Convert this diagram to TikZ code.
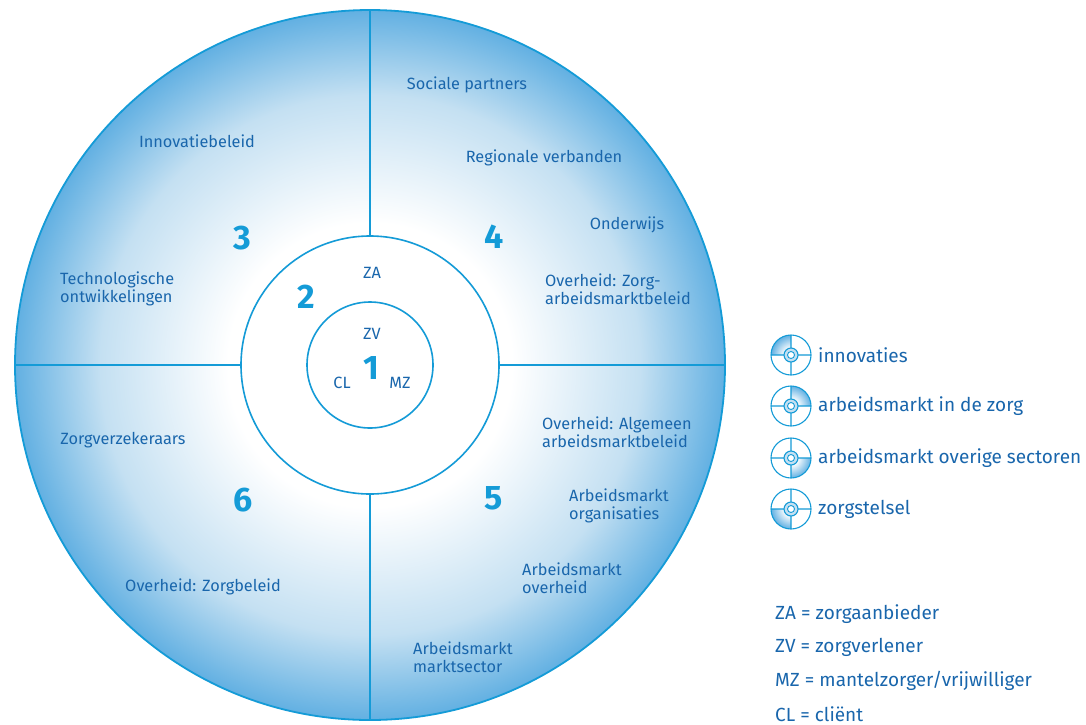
\documentclass[tikz,border=0pt]{standalone}
\usepackage{fontspec}
\setmainfont{Fira Sans}
\definecolor{ringblue}{RGB}{20,155,215}
\definecolor{textblue}{RGB}{25,102,172}
\definecolor{edgeblue}{RGB}{98,176,226}
\definecolor{paleblue}{RGB}{196,224,242}
\pgfdeclareradialshading{discfade}{\pgfpoint{0bp}{0bp}}{color(0bp)=(white); color(10bp)=(white); color(19bp)=(paleblue); color(25bp)=(edgeblue); color(50bp)=(edgeblue)}
\pgfdeclareradialshading{iconfade}{\pgfpoint{0bp}{0bp}}{color(0bp)=(white); color(8bp)=(white); color(25bp)=(edgeblue); color(50bp)=(edgeblue)}

\begin{document}
\begin{tikzpicture}[x=1pt, y=-1pt,
    lbl/.style={text=textblue, font=\fontsize{16.3}{17.5}\selectfont, align=left, inner sep=0pt},
    num/.style={text=ringblue, font=\fontsize{34}{34}\selectfont\bfseries, inner sep=0pt},
    key/.style={text=textblue, font=\fontsize{19}{20}\selectfont, anchor=west, inner sep=0pt},
    ring/.style={draw=ringblue, line width=1.6pt}]
    \useasboundingbox (0,0) rectangle (1086,724);
    \coordinate (c) at (370,365);
    % Draw the disc, its quarters and the two inner circles
    \shade[shading=discfade] (c) circle (355pt);
    \draw[ring] (370,10) -- (370,720) (15,365) -- (725,365);
    \draw[ring, fill=white] (c) circle (129pt);
    \draw[ring] (c) circle (63pt);
    \draw[ring, line width=1.8pt] (c) circle (355pt);
    % Zone numbers
    \foreach \x/\y/\n in {371/368/1, 306/297/2, 242/238/3, 494/237/4, 494/498/5, 243/500/6} {
        \node[num] (zone\n) at (\x,\y) {\n};
    }
    % Actors in the centre
    \foreach \x/\y/\t in {372/273/ZA, 372/334/ZV, 342/383/CL, 400/383/MZ} {
        \node[lbl] (actor\t) at (\x,\y) {\t};
    }
    % Labels in the outer ring
    \def\centred{197/141/Innovatiebeleid, 467/85/Sociale partners, 544/158/Regionale verbanden,
        627/225/Onderwijs, 123/440/Zorgverzekeraars, 203/587/Overheid: Zorgbeleid}
    \foreach \x/\y/\t [count=\i] in \centred {
        \node[lbl] (field\i) at (\x,\y) {\t};
    }
    \def\leftset{60/289/{Technologische\\ontwikkelingen}, 545/289/{Overheid: Zorg-\\arbeidsmarktbeleid},
        542/432/{Overheid: Algemeen\\arbeidsmarktbeleid}, 569/506/{Arbeidsmarkt\\organisaties},
        522/578/{Arbeidsmarkt\\overheid}, 413/657/{Arbeidsmarkt\\marktsector}}
    \foreach \x/\y/\t [count=\i] in \leftset {
        \node[lbl, anchor=west] (block\i) at (\x,\y) {\t};
    }
    % Legend: one shaded quarter per icon
    \def\icons{355/90/innovaties, 406/0/arbeidsmarkt in de zorg,
        458/270/arbeidsmarkt overige sectoren, 509/180/zorgstelsel}
    \foreach \y/\a/\t [count=\i] in \icons {
        \coordinate (icon\i) at (791,\y);
        \fill[white] (icon\i) circle (20pt);
        \begin{scope}
            \clip (icon\i) -- ++(\a:20pt) arc (\a:\a+90:20pt) -- cycle;
            \shade[shading=iconfade] (icon\i) circle (20pt);
        \end{scope}
        \draw[ringblue, line width=1.1pt] (icon\i) circle (20pt)
            (icon\i) ++(-20pt,0pt) -- ++(40pt,0pt)
            (icon\i) ++(0pt,-20pt) -- ++(0pt,40pt);
        \draw[ringblue, line width=1.1pt, fill=paleblue] (icon\i) circle (7pt);
        \draw[ringblue, line width=0.9pt, fill=white] (icon\i) circle (3.5pt);
        \node[key] (key\i) at (818,\y) {\t};
    }
    % Abbreviations
    \foreach \t [count=\i] in {ZA = zorgaanbieder, ZV = zorgverlener,
        MZ = mantelzorger/vrijwilliger, CL = cliënt} {
        \node[key] (abbr\i) at (775,{580.5+33.3*\i}) {\t};
    }
\end{tikzpicture}
\end{document}
